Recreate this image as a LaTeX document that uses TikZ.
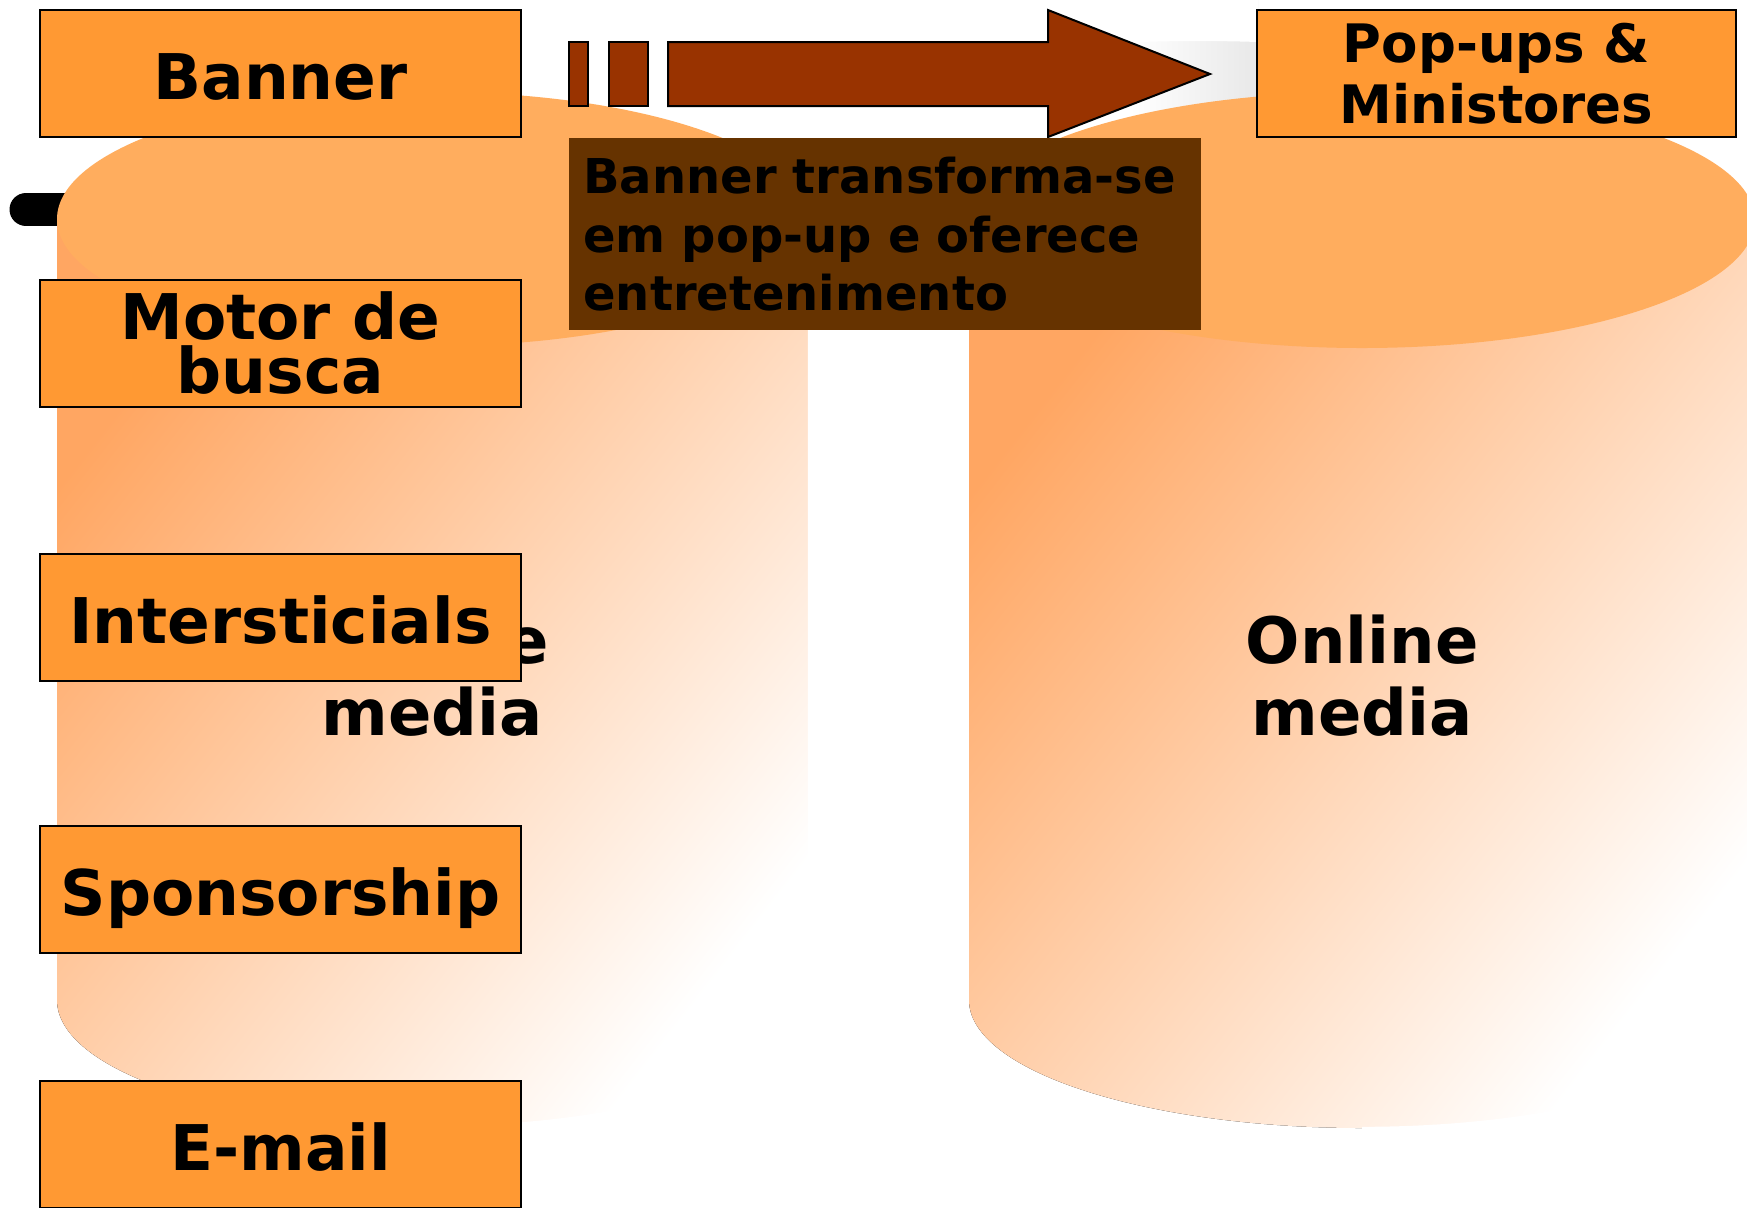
\documentclass[tikz,border=0pt]{standalone}
\usepackage{fontspec}
\setmainfont{DejaVu Sans}
\definecolor{boxor}{HTML}{FF9933}
\definecolor{arrbr}{HTML}{993300}
\definecolor{txtbr}{HTML}{663300}
\definecolor{cyltop}{HTML}{FFAD5E}
\definecolor{cylbody}{HTML}{FFA662}
\begin{document}
\begin{tikzpicture}[x=0.5pt,y=-0.5pt,
  lbl/.style={draw=black, line width=1pt, fill=boxor, minimum width=240.5pt,
    minimum height=63.5pt, inner sep=0pt, align=center, text height=26pt, text depth=0pt,
    font=\fontsize{31.5}{27}\bfseries\selectfont},
  lbltwo/.style={draw=black, line width=1pt, fill=boxor, minimum width=240.5pt,
    minimum height=63.5pt, inner sep=0pt, align=center},
  cyltext/.style={align=center, font=\fontsize{32}{36}\bfseries\selectfont},
  blockarrow/.style={fill=arrbr, draw=black, line width=1pt},
  cylbodyfill/.style={top color=cylbody, bottom color=white, shading angle=52},
  edgefix/.style={draw=white, line width=1.2pt}]
\useasboundingbox (0,0) rectangle (1747,1207);
\clip (0,0) rectangle (1747,1207);
\fill[white] (0,0) rectangle (1747,1207);

% black bar behind left cylinder
\draw[line width=16.5pt, line cap=round] (26,209.5) -- (140,209.5);

% shadow of right cylinder top (visible only between arrow and box)
\begin{scope}
  \clip (1100,0) rectangle (1258,260);
  \fill[left color=white, right color=gray!18] (1130,0) rectangle (1258,260);
  \fill[white] (1100,45) .. controls (1130,41) and (1200,40) .. (1258,42) -- (1258,0) -- (1100,0) -- cycle;
\end{scope}

% left cylinder
\fill[cylbodyfill] (57,219) -- (57,1000) arc[start angle=180, end angle=360, x radius=188pt, y radius=63.5pt] -- (809,219) -- cycle;
\draw[edgefix] (433,1127) arc[start angle=270, end angle=360, x radius=188pt, y radius=63.5pt] -- (809,219);
\fill[cyltop] (433,219) ellipse [x radius=188pt, y radius=63.5pt];
\node[cyltext] (lefttxt) at (432,676) {Online\\media};

% right cylinder
\fill[cylbodyfill] (969,220) -- (969,1000) arc[start angle=180, end angle=360, x radius=196.5pt, y radius=64pt] -- (1755,220) -- cycle;
\draw[edgefix] (1362,1128) arc[start angle=270, end angle=360, x radius=196.5pt, y radius=64pt];
\fill[cyltop] (1362,220) ellipse [x radius=196.5pt, y radius=64pt];
\node[cyltext] (righttxt) at (1362,676) {Online\\media};

% label boxes
\node[lbl] (banner) at (280.5,73) {Banner};
\node[lbltwo, font=\fontsize{31.5}{27}\bfseries\selectfont] (motor) at (280.5,343) {Motor de\\busca};
\node[lbl] (inter) at (280.5,617.5) {Intersticials};
\node[lbl] (spons) at (280.5,889.5) {Sponsorship};
\node[lbl] (email) at (280.5,1144.5) {E-mail};
\node[lbltwo, minimum width=239.5pt, font=\fontsize{26.5}{30.5}\bfseries\selectfont] (popups) at (1496.5,73.5) {Pop-ups \&\\Ministores};

% block arrow
\filldraw[blockarrow] (569,42) rectangle (588,106);
\filldraw[blockarrow] (609,42) rectangle (648,106);
\filldraw[blockarrow] (668,42) -- (1048,42) -- (1048,10) -- (1210,74) -- (1048,137) -- (1048,106) -- (668,106) -- cycle;

% explanation box
\node[anchor=north west, fill=txtbr, minimum width=316pt, minimum height=96pt,
  text width=302pt, inner xsep=7pt, inner ysep=0pt, align=left,
  font=\fontsize{24}{29.25}\bfseries\selectfont] (note) at (569,138)
  {Banner transforma-se\\em pop-up e oferece\\entretenimento};
\end{tikzpicture}
\end{document}
